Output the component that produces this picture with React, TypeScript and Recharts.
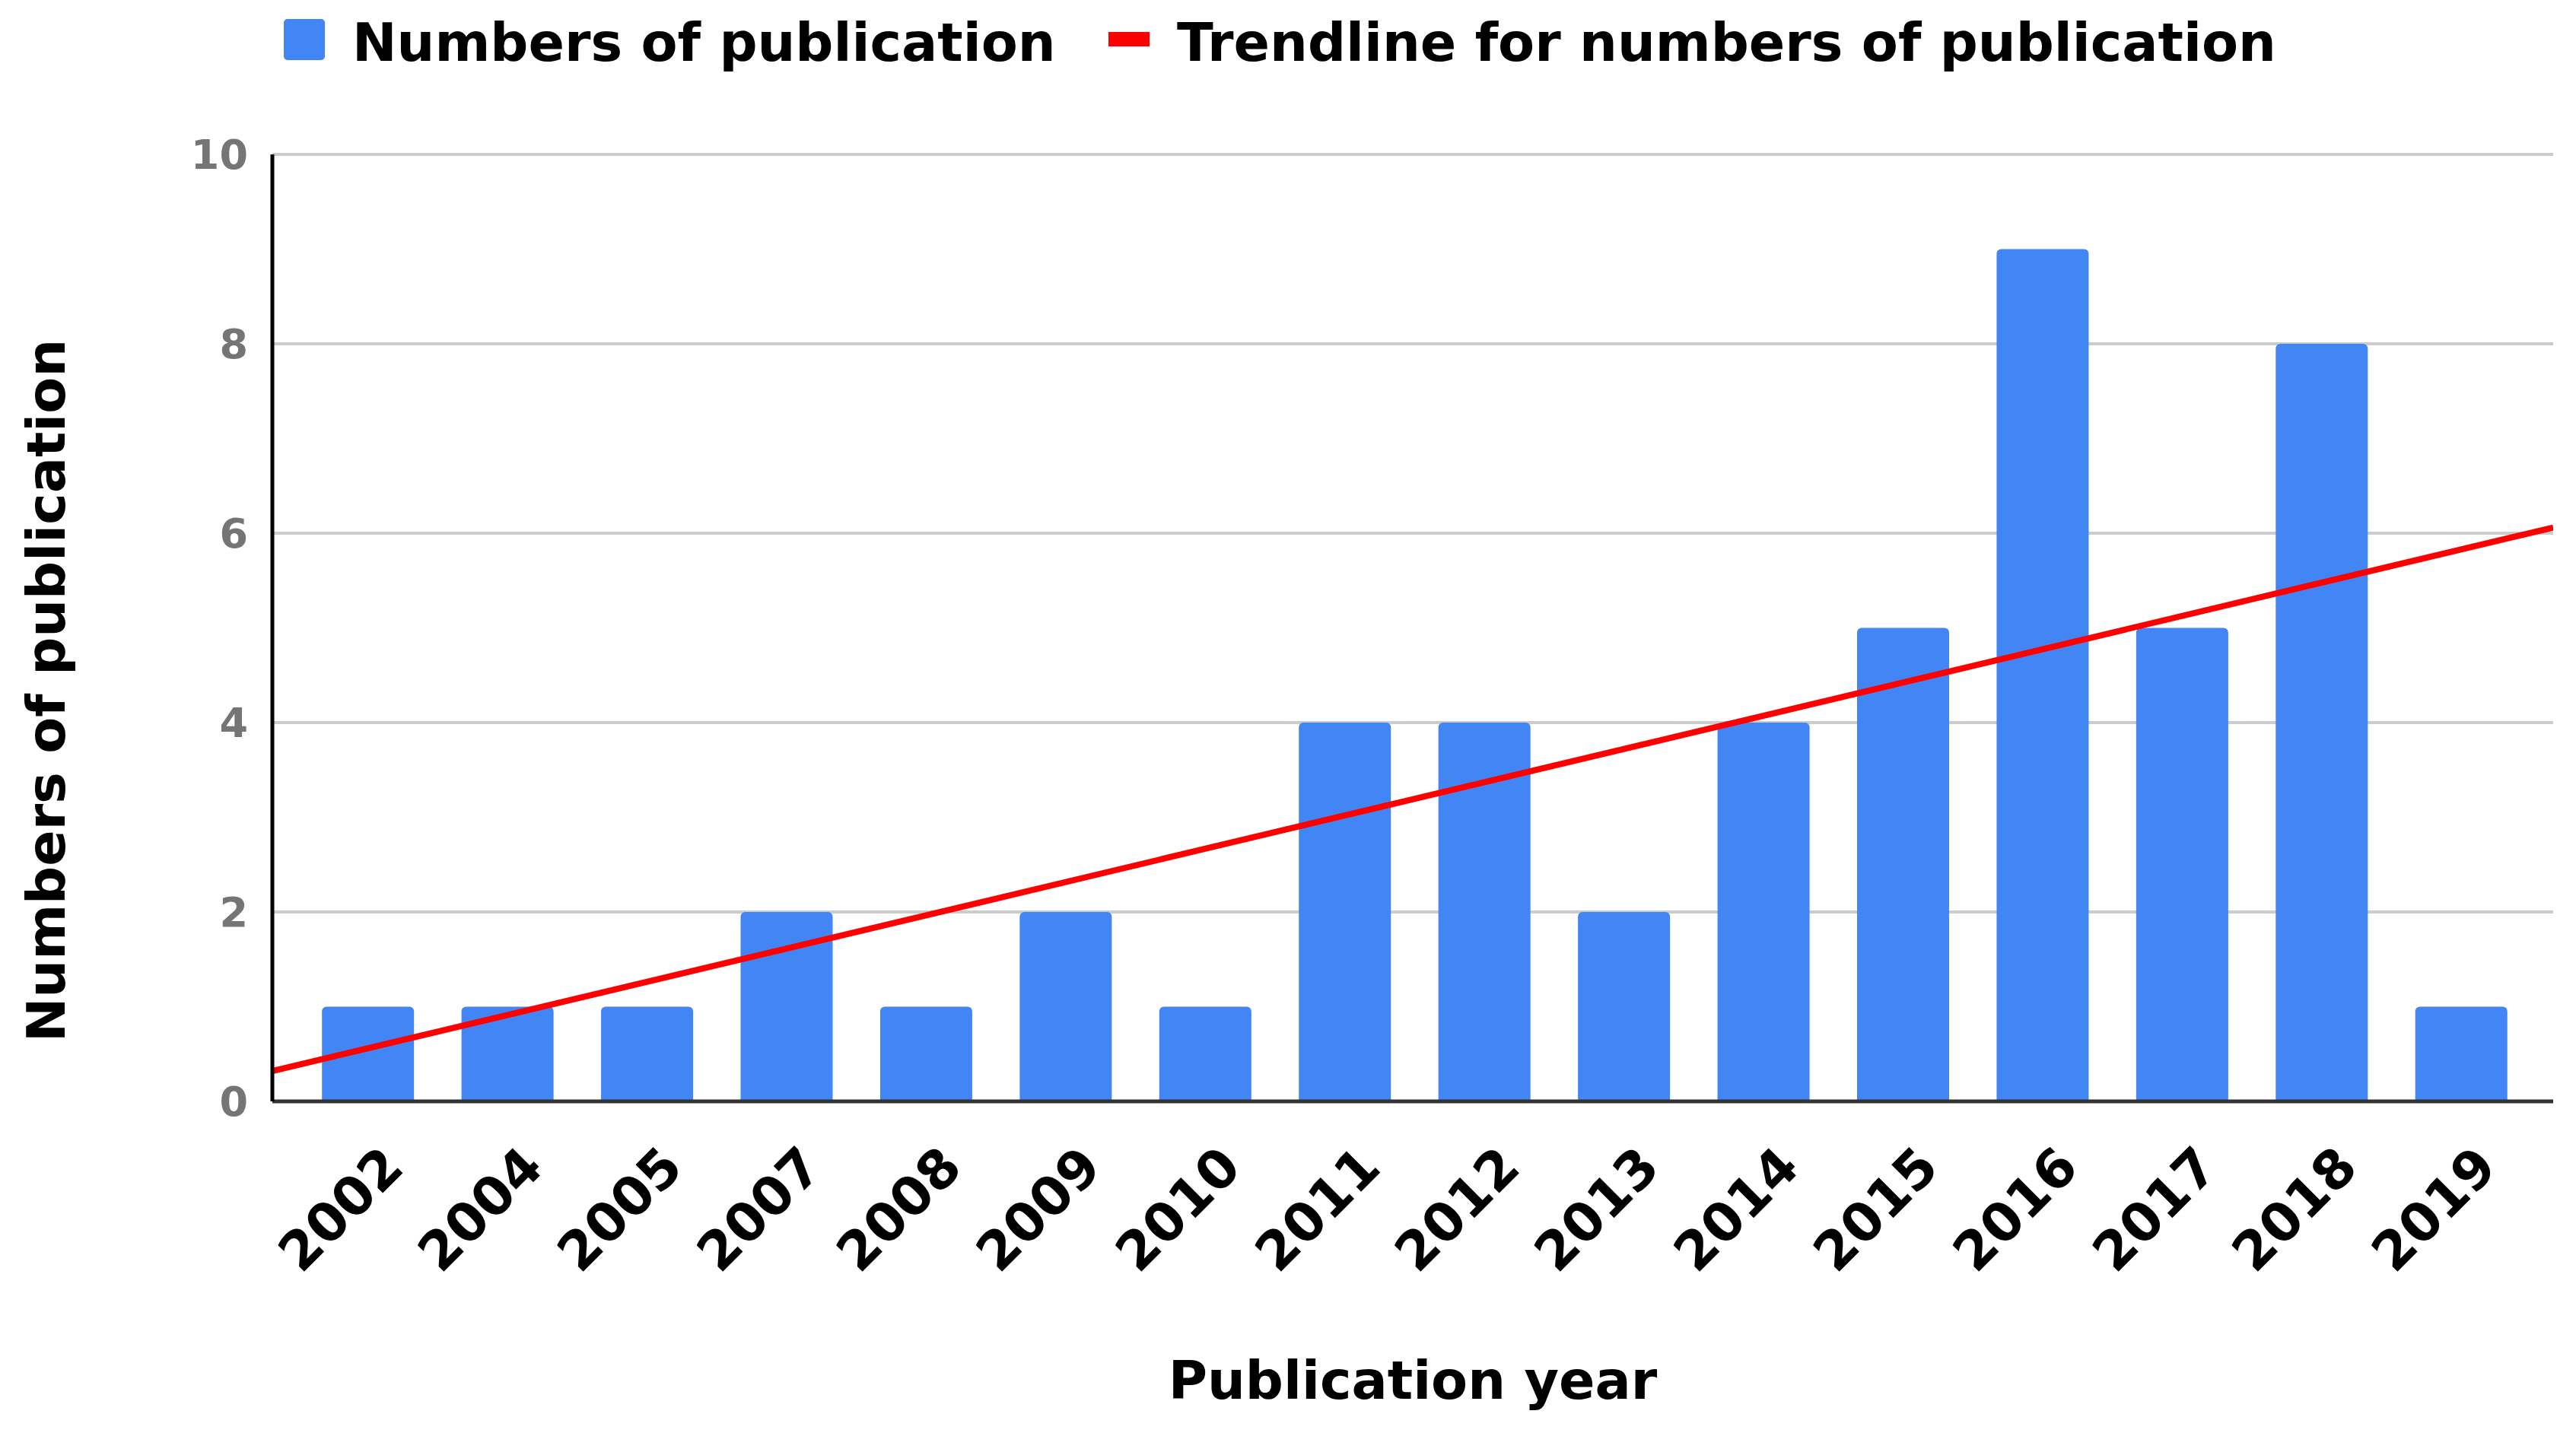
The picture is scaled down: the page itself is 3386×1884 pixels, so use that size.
import React from 'react';
import { ComposedChart, Bar, Line, XAxis, YAxis, CartesianGrid, Legend, Label } from 'recharts';

document.body.style.margin = '0';

const years = ['2002', '2004', '2005', '2007', '2008', '2009', '2010', '2011', '2012', '2013', '2014', '2015', '2016', '2017', '2018', '2019'];
const publications = [1, 1, 1, 2, 1, 2, 1, 4, 4, 2, 4, 5, 9, 5, 8, 1];
const yTicks = [0, 2, 4, 6, 8, 10];
// trendline at the left and right edge of the plot
const trendPos = [0, 1];
const trendValues = [0.32, 6.06];

const data = years.map((year, i) => ({ year, count: publications[i] }));
const trendData = trendPos.map((t, i) => ({ t, trend: trendValues[i] }));

const FONT = "'DejaVu Sans', Verdana, sans-serif";
const BLUE = '#4285F4';
const RED = '#FF0000';

const LegendBox = () => (
    <svg width={3386} height={110} style={{ display: 'block' }}>
        <rect x={373} y={25} width={54} height={54} rx={5} fill={BLUE} />
        <text x={463} y={80} fontFamily={FONT} fontWeight={700} fontSize={70} fill="#000">Numbers of publication</text>
        <rect x={1457} y={42} width={54} height={19} fill={RED} />
        <text x={1547} y={80} fontFamily={FONT} fontWeight={700} fontSize={70} fill="#000">Trendline for numbers of publication</text>
    </svg>
);

const YearTick = (props: any) => {
    const { x, y, payload } = props;
    const ax = x + 50;
    const ay = y + 90;
    return (
        <text x={ax} y={ay} transform={`rotate(-45, ${ax}, ${ay})`} textAnchor="end"
            fontFamily={FONT} fontWeight={700} fontSize={70} fill="#000">
            {payload.value}
        </text>
    );
};

const XTitle = (props: any) => {
    const vb = props.viewBox;
    return (
        <text x={vb.x + vb.width / 2} y={1839} textAnchor="middle" fontFamily={FONT} fontWeight={700} fontSize={70} fill="#000">
            Publication year
        </text>
    );
};

const YTitle = () => (
    <text x={85} y={908} transform="rotate(-90, 85, 908)" textAnchor="middle" fontFamily={FONT} fontWeight={700} fontSize={70} fill="#000">
        Numbers of publication
    </text>
);

const App: React.FC = () => {
    return (
        <div style={{ width: 3386, height: 1884, background: '#fff' }}>
            <ComposedChart width={3386} height={1884} data={data} barCategoryGap="17%"
                margin={{ top: 93, right: 30, bottom: 0, left: 0 }}>
                <Legend verticalAlign="top" wrapperStyle={{ top: 0, left: 0, width: 3386, height: 110 }} content={() => <LegendBox />} />
                <CartesianGrid xAxisId="cat" vertical={false} stroke="#CCCCCC" strokeWidth={4} />
                <XAxis xAxisId="cat" dataKey="year" interval={0} height={436} padding={{ left: 34, right: 29 }}
                    tickLine={false} tickSize={0} tickMargin={0} tick={<YearTick />}
                    axisLine={{ stroke: '#333333', strokeWidth: 5 }}>
                    <Label content={<XTitle />} />
                </XAxis>
                <XAxis xAxisId="num" type="number" dataKey="t" domain={[0, 1]} allowDataOverflow hide />
                <YAxis domain={[0, 10]} ticks={yTicks} width={358} tickLine={false} tickSize={0} tickMargin={32}
                    tick={{ fill: '#757575', fontSize: 54, fontWeight: 700, fontFamily: FONT }}
                    axisLine={{ stroke: '#000000', strokeWidth: 5 }}>
                    <Label content={<YTitle />} />
                </YAxis>
                <Bar xAxisId="cat" dataKey="count" fill={BLUE} radius={[6, 6, 0, 0]} isAnimationActive={false} />
                <Line xAxisId="num" data={trendData} dataKey="trend" stroke={RED} strokeWidth={8} dot={false} activeDot={false} type="linear" isAnimationActive={false} />
            </ComposedChart>
        </div>
    );
};

export default App;
